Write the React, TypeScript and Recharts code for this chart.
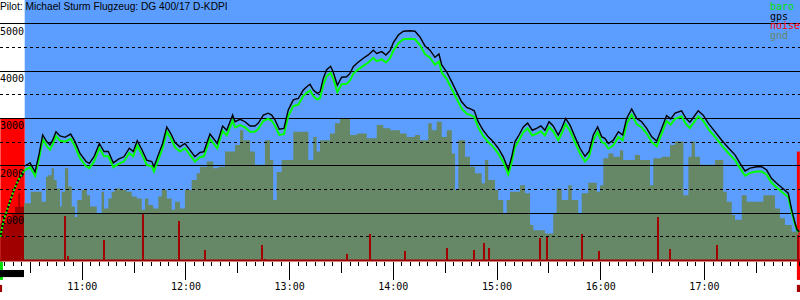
import { ComposedChart, Area, Line, Bar, XAxis, YAxis, ReferenceLine, ReferenceArea } from "recharts";

// all times are minutes after midnight, altitudes in feet
const title = "Pilot: Michael Sturm Flugzeug: DG 400/17 D-KDPI";
const legendNames = ["baro", "gps", "noise", "gnd"];
const legendColors = ["#00e000", "#000000", "#ff0000", "#668866"];

const timeStart = 612.4;
const timeEnd = 1075.3;
const logStart = 626.7;

const hourTicks = [660, 720, 780, 840, 900, 960, 1020];
const hourLabels = ["11:00", "12:00", "13:00", "14:00", "15:00", "16:00", "17:00"];
const solidLevels = [1000, 2000, 3000, 4000, 5000];
const dashedLevels = [500, 1500, 2500, 3500, 4500];

const flightMinutes = [
  626.3, 629.8, 632.7, 635.1, 637.1, 639.4, 641.3, 642.9, 644.8, 647.1, 650.0, 653.3, 655.8, 658.7, 662.2, 664.1,
  666.8, 669.9, 672.6, 675.1, 678.0, 680.9, 684.1, 687.2, 689.5, 691.8, 694.4, 697.3, 700.2, 701.5, 704.0, 706.5,
  708.9, 711.2, 713.7, 716.5, 719.4, 721.9, 725.2, 728.1, 730.4, 733.9, 735.8, 738.1, 741.2, 743.6, 747.0, 748.4,
  751.3, 754.2, 757.1, 759.9, 761.9, 764.8, 767.6, 769.6, 771.5, 774.0, 776.7, 779.2, 782.1, 785.0, 787.9, 789.9,
  791.8, 793.7, 796.0, 797.6, 799.5, 801.4, 803.7, 805.2, 807.6, 810.1, 813.0, 814.9, 816.8, 819.1, 822.6, 825.5,
  828.4, 830.4, 833.3, 835.7, 838.1, 840.0, 842.9, 845.8, 849.6, 852.5, 855.4, 858.3, 861.2, 864.1, 866.4, 868.0,
  870.9, 873.8, 876.6, 879.5, 882.4, 885.3, 886.8, 889.1, 892.0, 894.9, 897.8, 900.7, 903.6, 906.5, 908.5, 910.4,
  912.7, 915.2, 917.7, 920.4, 922.9, 925.4, 927.7, 930.1, 932.5, 935.4, 937.4, 939.7, 942.2, 945.1, 948.0, 950.9,
  953.2, 955.7, 958.2, 960.6, 962.4, 964.4, 967.3, 970.2, 972.7, 975.0, 977.9, 980.8, 983.7, 986.6, 989.5, 992.4,
  995.3, 998.1, 1000.5, 1003.0, 1006.8, 1009.3, 1011.6, 1014.0, 1016.4, 1019.3, 1022.2, 1026.1, 1030.0, 1033.8,
  1037.7, 1040.6, 1043.5, 1046.4, 1050.2, 1053.1, 1056.0, 1058.9, 1061.8, 1064.7, 1068.5, 1070.5, 1072.4, 1073.7,
  1074.9,
];
const gpsAltitude = [
  1990, 2060, 1870, 2260, 2650, 2510, 2440, 2540, 2720, 2630, 2600, 2670, 2510, 2260, 2090, 2050,
  2190, 2470, 2300, 2300, 2060, 2140, 2190, 2370, 2300, 2530, 2350, 2120, 2090, 1980, 2230, 2470,
  2820, 2680, 2490, 2400, 2470, 2350, 2190, 2280, 2300, 2670, 2580, 2470, 2840, 2750, 3070, 2930,
  2980, 2930, 2840, 2840, 2900, 3070, 3110, 3070, 2970, 2770, 2790, 3180, 3390, 3420, 3600, 3670,
  3720, 3600, 3530, 3560, 3850, 4030, 4100, 3980, 3700, 3870, 3880, 3950, 4090, 4170, 4270, 4340,
  4440, 4370, 4410, 4340, 4430, 4600, 4760, 4840, 4850, 4840, 4720, 4530, 4440, 4290, 4360, 4130,
  3980, 3770, 3560, 3350, 3230, 3190, 3160, 2930, 2750, 2610, 2510, 2370, 2190, 1920, 2190, 2510,
  2650, 2820, 2900, 2750, 2790, 2840, 2750, 2930, 2840, 2650, 2790, 3000, 2860, 2610, 2370, 2200,
  2300, 2650, 2820, 2610, 2580, 2470, 2540, 2720, 2650, 3000, 3200, 3000, 2930, 2790, 2610, 2520,
  2790, 3060, 2990, 3110, 3160, 3000, 2920, 3040, 3160, 3070, 2900, 2720, 2540, 2380,
  2230, 2050, 1890, 1950, 1980, 1980, 1910, 1730, 1630, 1540, 1420, 1070, 790, 640,
  610,
];
const baroAltitude = [
  1900, 1970, 1790, 2170, 2560, 2420, 2340, 2450, 2630, 2530, 2510, 2570, 2410, 2160, 1990, 1950,
  2090, 2370, 2200, 2200, 1970, 2040, 2090, 2270, 2200, 2430, 2250, 2020, 1990, 1880, 2130, 2370,
  2720, 2580, 2390, 2300, 2370, 2250, 2090, 2180, 2200, 2570, 2480, 2370, 2740, 2640, 2950, 2810,
  2860, 2810, 2720, 2720, 2780, 2950, 2990, 2950, 2850, 2650, 2670, 3050, 3260, 3290, 3470, 3540,
  3590, 3470, 3400, 3430, 3710, 3890, 3960, 3840, 3560, 3720, 3730, 3800, 3940, 4020, 4110, 4180,
  4280, 4210, 4250, 4180, 4270, 4430, 4590, 4670, 4680, 4670, 4550, 4360, 4280, 4130, 4200, 3970,
  3830, 3620, 3420, 3210, 3100, 3060, 3030, 2810, 2630, 2500, 2400, 2260, 2080, 1820, 2080, 2400,
  2540, 2710, 2790, 2640, 2680, 2730, 2640, 2820, 2730, 2540, 2680, 2880, 2740, 2500, 2260, 2090,
  2190, 2540, 2710, 2500, 2470, 2360, 2430, 2610, 2540, 2880, 3080, 2880, 2810, 2680, 2500, 2410,
  2680, 2940, 2870, 2990, 3040, 2880, 2800, 2920, 3040, 2950, 2780, 2610, 2430, 2270,
  2120, 1950, 1790, 1850, 1880, 1880, 1810, 1640, 1540, 1450, 1340, 1020, 760, 630,
  610,
];

// takeoff climb before the logger trace starts
const climbMinutes = [612.6, 614.3, 617.2, 620.1, 623.0, 625.9, 626.3];
const climbAltitude = [500, 820, 1140, 1450, 1700, 1870, 1900];

const gndMinutes = [
  626.3, 630.2, 636.5, 639.0, 640.3, 642.3, 643.6, 645.2, 647.1, 648.1, 650.0, 651.9, 653.9, 655.8, 657.1, 659.7,
  662.6, 664.5, 668.4, 671.2, 672.6, 675.1, 677.0, 678.9, 681.8, 685.7, 688.6, 691.5, 694.4, 696.3, 698.2, 701.1,
  704.0, 706.0, 708.9, 711.7, 713.7, 716.5, 719.4, 723.3, 726.2, 728.1, 732.0, 735.8, 738.7, 742.6, 748.4, 751.3,
  753.2, 757.1, 759.9, 765.7, 768.6, 770.5, 772.5, 775.4, 782.1, 790.8, 793.7, 795.6, 797.6, 803.3, 806.2, 809.1,
  814.9, 818.8, 824.6, 830.4, 834.2, 838.1, 843.8, 847.7, 852.5, 855.4, 860.2, 862.2, 865.1, 868.0, 870.9, 873.8,
  875.7, 877.6, 881.5, 884.3, 887.2, 891.1, 893.0, 894.9, 898.8, 900.7, 903.6, 905.6, 907.5, 913.3, 916.2, 919.1,
  921.0, 927.7, 932.5, 934.5, 937.4, 941.2, 943.2, 947.0, 949.0, 952.8, 957.7, 959.6, 961.5, 964.4, 967.3, 971.1,
  973.0, 979.8, 982.7, 988.5, 990.4, 995.3, 1000.1, 1003.0, 1007.8, 1010.7, 1012.6, 1014.5, 1017.4, 1026.1, 1030.9,
  1032.9, 1035.8, 1037.7, 1041.6, 1044.4, 1054.1, 1060.8, 1063.7, 1066.6, 1070.5, 1074.3,
];
const gndAltitude = [
  1210, 1450, 1240, 1770, 1800, 1950, 1700, 1520, 1140, 1450, 1950, 1560, 1140, 920, 1280, 1490,
  1380, 1140, 1000, 1450, 1100, 1310, 1450, 1520, 1490, 1450, 1350, 1310, 1070, 1310, 1170, 1100,
  1350, 1490, 1310, 1070, 1240, 1100, 1490, 1700, 1840, 1980, 2090, 1950, 1980, 2300, 2440, 2750,
  2540, 2300, 2020, 2540, 2120, 1280, 1870, 2120, 2720, 2120, 2610, 2300, 2540, 2680, 2900, 3000,
  2650, 2680, 2580, 2860, 2790, 2750, 2680, 2610, 2650, 2540, 2900, 2750, 2930, 2610, 2750, 2260,
  1490, 2540, 2190, 1980, 1840, 1630, 2120, 1700, 1490, 1280, 1000, 1280, 1450, 1590, 1420, 750,
  640, 570, 1000, 1520, 1280, 1590, 1280, 1000, 1420, 1640, 1450, 1590, 2160, 2260, 2190, 2330,
  2120, 2230, 2120, 1590, 2160, 2190, 2440, 2510, 1380, 2190, 2510, 2190, 2020, 2120, 1450,
  1240, 960, 860, 1380, 1240, 1380, 1100, 890, 750, 610, 610,
];

// engine run at takeoff, recorded as continuous noise
const engineMinutes = [612.6, 616.3, 619.2, 621.1, 623.0, 624.0, 626.3, 626.9, 627.4];
const engineNoise = [785, 855, 1000, 1135, 1420, 1135, 360, 150, 0];

// noise spikes during the flight
const noiseMinutes = [
  650.0, 652.0, 672.7, 695.3, 716.1, 731.3, 764.2, 765.7, 813.4, 826.6, 846.9, 871.2, 886.8,
  892.6, 895.3, 925.0, 929.2, 949.3, 959.0, 993.3, 1000.2, 1027.4, 1074.4,
];
const noiseLevel = [
  940, 100, 430, 980, 830, 220, 330, 40, 140, 560, 200, 260, 220,
  380, 260, 480, 520, 570, 200, 910, 240, 330, 540,
];

const motorRuns = [
  { start: 612.6, end: 626.7, level: 3000 },
  { start: 1073.5, end: 1075.2, level: 2300 },
];

// small indicator strips under the time axis
const strips = [
  { x1: 612.4, x2: 614.1, y1: -410, y2: -25, color: "#00dd00" },
  { x1: 612.4, x2: 626.3, y1: -350, y2: -200, color: "#000000" },
  { x1: 612.4, x2: 613.6, y1: -665, y2: -515, color: "#a00000" },
  { x1: 1073.5, x2: 1075.3, y1: -410, y2: 0, color: "#ff0000" },
  { x1: 1073.5, x2: 1075.3, y1: -665, y2: -515, color: "#a00000" },
];

const flightRows = flightMinutes.map((t, i) => ({ t, gps: gpsAltitude[i], baro: baroAltitude[i] }));
const climbRows = climbMinutes.map((t, i) => ({ t, alt: climbAltitude[i] }));
const gndRows = gndMinutes.map((t, i) => ({ t, gnd: gndAltitude[i] }));
const engineRows = engineMinutes.map((t, i) => ({ t, noise: engineNoise[i] }));
const noiseRows = noiseMinutes.map((t, i) => ({ t, noise: noiseLevel[i] }));

const minorTicks: number[] = [];
for (let m = 615; m <= 1075; m += 5) minorTicks.push(m);

const mono = "'DejaVu Sans Mono', monospace";

function TimeTick(props: any) {
  const { x, y, payload } = props;
  const m = payload.value;
  const len = m % 60 === 0 ? 19 : m % 30 === 0 ? 12 : 5;
  const idx = hourTicks.indexOf(m);
  return (
    <g>
      <line x1={x} x2={x} y1={y + 1} y2={y + len} stroke="#000" shapeRendering="crispEdges" />
      {idx >= 0 && (
        <text x={x} y={y + 29} textAnchor="middle" fontSize={10} fontFamily={mono} fill="#000">
          {hourLabels[idx]}
        </text>
      )}
    </g>
  );
}

function AltLabel(props: any) {
  const { viewBox, value } = props;
  return (
    <text x={0} y={viewBox.y + 11} textAnchor="start" fontSize={10} fontFamily={mono} fill="#000">
      {value}
    </text>
  );
}

// spike drawn 2px wide, centred on the slot the library computed
function NoiseSpike(props: any) {
  const { x, y, width, height } = props;
  if (!height) return null;
  return <rect x={x + width / 2 - 1} y={y} width={2} height={height} fill="#a00000" shapeRendering="crispEdges" />;
}

export default function App() {
  return (
    <div style={{ position: "absolute", left: 0, top: 0, width: 800, height: 300, background: "#fff" }}>
      <ComposedChart width={800} height={300} data={noiseRows} margin={{ top: 0, right: 0, bottom: 0, left: 0 }}>
        <XAxis
          dataKey="t"
          type="number"
          domain={[timeStart, timeEnd]}
          allowDataOverflow
          ticks={minorTicks}
          interval={0}
          tick={(p: any) => <TimeTick {...p} />}
          tickLine={false}
          tickSize={0}
          tickMargin={0}
          height={39.5}
          axisLine={{ stroke: "#a00000", strokeWidth: 2 }}
        />
        <YAxis type="number" domain={[0, 5500]} allowDataOverflow width={0} hide />
        <ReferenceArea x1={logStart} x2={timeEnd} y1={0} y2={5500} fill="#5c9eff" fillOpacity={1} stroke="none" zIndex={10} />
        {motorRuns.map((r, i) => (
          <Area
            key={`motor-${i}`}
            data={[{ t: r.start, v: r.level }, { t: r.end, v: r.level }]}
            dataKey="v"
            type="linear"
            stroke="none"
            fill="#ff0000"
            fillOpacity={1}
            dot={false}
            activeDot={false}
            isAnimationActive={false}
            zIndex={20}
          />
        ))}
        <Area
          data={engineRows}
          dataKey="noise"
          type="stepAfter"
          stroke="none"
          fill="#a00000"
          fillOpacity={1}
          dot={false}
          activeDot={false}
          isAnimationActive={false}
          zIndex={30}
        />
        <Area
          data={gndRows}
          dataKey="gnd"
          type="stepAfter"
          stroke="none"
          fill="#668866"
          fillOpacity={1}
          dot={false}
          activeDot={false}
          isAnimationActive={false}
          zIndex={40}
        />
        <Bar dataKey="noise" fill="#a00000" barSize={2} shape={(p: any) => <NoiseSpike {...p} />} isAnimationActive={false} zIndex={50} />
        {dashedLevels.map((v) => (
          <ReferenceLine key={`d-${v}`} y={v} stroke="#000" strokeDasharray="3 3" shapeRendering="crispEdges" zIndex={60} />
        ))}
        {solidLevels.map((v) => (
          <ReferenceLine
            key={`s-${v}`}
            y={v}
            stroke="#000"
            shapeRendering="crispEdges"
            zIndex={60}
            label={(p: any) => <AltLabel {...p} value={v} />}
          />
        ))}
        {strips.map((s, i) => (
          <ReferenceArea
            key={`strip-${i}`}
            x1={s.x1}
            x2={s.x2}
            y1={s.y1}
            y2={s.y2}
            fill={s.color}
            fillOpacity={1}
            stroke="none"
            ifOverflow="visible"
            zIndex={65}
          />
        ))}
        <Line data={climbRows} dataKey="alt" stroke="#000" strokeWidth={2} strokeDasharray="2 2" strokeDashoffset={2} dot={false} activeDot={false} isAnimationActive={false} zIndex={68} />
        <Line data={climbRows} dataKey="alt" stroke="#00ff00" strokeWidth={2} strokeDasharray="2 2" dot={false} activeDot={false} isAnimationActive={false} zIndex={69} />
        <Line data={flightRows} dataKey="baro" stroke="#00ff00" strokeWidth={2} dot={false} activeDot={false} isAnimationActive={false} zIndex={70} />
        <Line data={flightRows} dataKey="gps" stroke="#000" strokeWidth={1.4} dot={false} activeDot={false} isAnimationActive={false} zIndex={80} />
      </ComposedChart>
      <svg width={800} height={300} style={{ position: "absolute", left: 0, top: 0, pointerEvents: "none" }}>
        <text x={0} y={10} fontSize={10.2} fontFamily="'Liberation Sans', Arial, sans-serif" fill="#000">
          {title}
        </text>
        {legendNames.map((n, i) => (
          <text key={n} x={770} y={10 + i * 9.5} fontSize={10} fontFamily={mono} fill={legendColors[i]}>
            {n}
          </text>
        ))}
      </svg>
    </div>
  );
}
